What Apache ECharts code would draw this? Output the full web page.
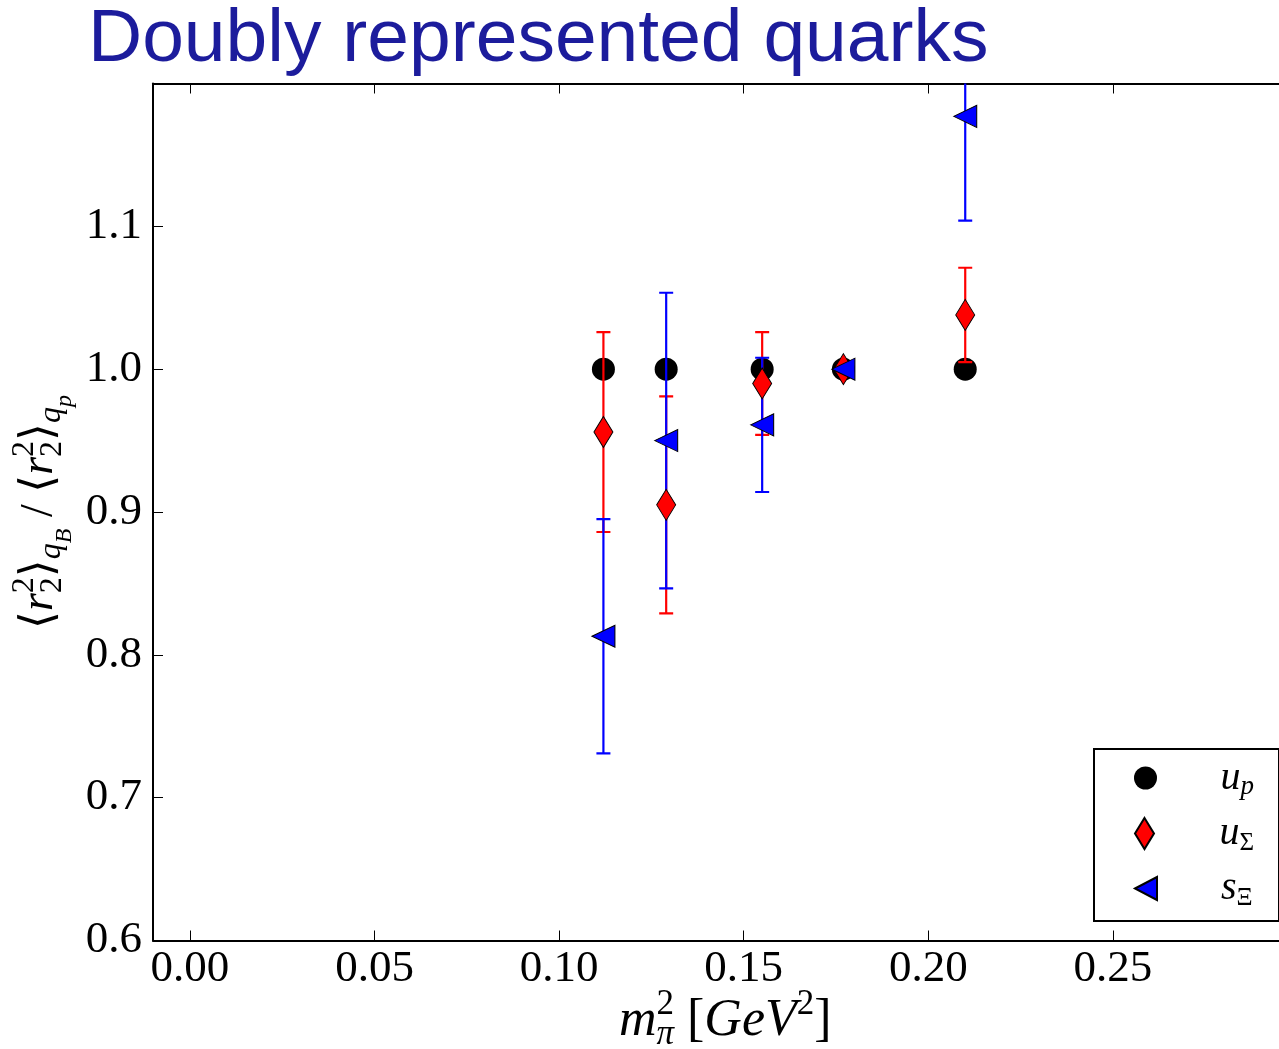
<!DOCTYPE html>
<html>
<head>
<meta charset="utf-8">
<title>Doubly represented quarks</title>
<script src="https://cdn.jsdelivr.net/npm/echarts@6/dist/echarts.min.js"></script>
<style>
  html, body { margin: 0; padding: 0; background: #ffffff; }
  #chart { width: 1279px; height: 1049px; }
</style>
</head>
<body>
<div id="chart"></div>
<script>
// Pion mass squared [GeV^2] for each ensemble
const mpi2 = [0.112, 0.129, 0.155, 0.177, 0.210];

// Ratio <r2^2>_{qB} / <r2^2>_{qp} for each quark flavour, with errors
const upValues = [1.000, 1.000, 1.000, 1.000, 1.000];
const uSigmaValues = [0.956, 0.905, 0.990, 1.000, 1.038];
const uSigmaErrors = [0.070, 0.076, 0.036, 0.000, 0.033];
const sXiValues = [0.813, 0.950, 0.961, 1.000, 1.177];
const sXiErrors = [0.082, 0.1035, 0.047, 0.000, 0.073];

// Tick positions along the mass axis
const xTicks = [0.00, 0.05, 0.10, 0.15, 0.20, 0.25, 0.30];
const xTickLabels = [0.00, 0.05, 0.10, 0.15, 0.20, 0.25];

const SERIF = '"Liberation Serif", "DejaVu Serif", serif';

function points(vals) {
  return mpi2.map((x, i) => [x, vals[i]]);
}
function bars(vals, errs) {
  return mpi2.map((x, i) => [x, vals[i] - errs[i], vals[i] + errs[i]]);
}

// Vertical error bar with horizontal caps
function errorBarRenderer(color) {
  return function (params, api) {
    const x = api.value(0);
    const lo = api.coord([x, api.value(1)]);
    const hi = api.coord([x, api.value(2)]);
    const cap = 7;
    const style = { stroke: color, lineWidth: 2.2 };
    return {
      type: 'group',
      children: [
        { type: 'line', shape: { x1: lo[0], y1: lo[1], x2: hi[0], y2: hi[1] }, style: style },
        { type: 'line', shape: { x1: lo[0] - cap, y1: lo[1], x2: lo[0] + cap, y2: lo[1] }, style: style },
        { type: 'line', shape: { x1: hi[0] - cap, y1: hi[1], x2: hi[0] + cap, y2: hi[1] }, style: style }
      ]
    };
  };
}

// Rich-text token style; all tokens flow left to right so a zero-width
// superscript can sit directly above the following subscript.
function tok(size, opts) {
  return Object.assign({
    fontFamily: SERIF, fontSize: size, lineHeight: size,
    color: '#000', verticalAlign: 'middle', align: 'left'
  }, opts || {});
}

const tickStyle = { color: '#000', width: 1 };

const legendRich = {
  sp: { width: 55 },
  i: { fontFamily: SERIF, fontStyle: 'italic', fontSize: 40, lineHeight: 44, color: '#000', verticalAlign: 'middle' },
  sub: { fontFamily: SERIF, fontStyle: 'italic', fontSize: 27, lineHeight: 27, padding: [17, 0, 0, 0], color: '#000', verticalAlign: 'middle' },
  subu: { fontFamily: SERIF, fontSize: 25, lineHeight: 25, padding: [20, 0, 0, 0], color: '#000', verticalAlign: 'middle' }
};
const legendLabels = {
  'u_p': '{sp|}{i|u}{sub|p}',
  'u_Σ': '{sp|}{i|u}{subu|Σ}',
  's_Ξ': '{sp|}{i|s}{subu|Ξ}'
};
// Legend icons drawn with the same shapes as the plotted markers
const legendIcons = {
  'u_p': 'circle',
  'u_Σ': 'path://M9.5,0L19,15.5L9.5,31L0,15.5Z',
  's_Ξ': 'path://M0,11.5L22,0L22,23Z'
};

function makeLegend(name, centerY, h) {
  return {
    data: [{ name: name, icon: legendIcons[name] }],
    left: 1134,
    top: centerY - 22,
    orient: 'vertical',
    padding: 0,
    itemWidth: 30,
    itemHeight: h,
    itemGap: 0,
    z: 10,
    selectedMode: false,
    symbolKeepAspect: true,
    formatter: n => legendLabels[n],
    textStyle: { rich: legendRich }
  };
}

const option = {
  animation: false,
  backgroundColor: '#ffffff',
  title: {
    text: 'Doubly represented quarks',
    left: 88,
    top: 0,
    padding: 0,
    textStyle: {
      fontFamily: '"Liberation Sans", Arial, sans-serif',
      fontWeight: 'normal',
      fontSize: 75,
      lineHeight: 80,
      color: '#1c1c9c'
    }
  },
  grid: { left: 153, top: 83.5, right: -18.5, bottom: 108.5, containLabel: false, outerBoundsMode: 'none' },
  legend: [
    makeLegend('u_p', 778, 23),
    makeLegend('u_Σ', 833, 31),
    makeLegend('s_Ξ', 888, 23)
  ],
  graphic: [{
    type: 'rect',
    left: 1093,
    top: 748,
    z: 3,
    shape: { width: 185, height: 172 },
    style: { fill: '#ffffff', stroke: '#000000', lineWidth: 2 }
  }],
  xAxis: [{
    type: 'value',
    min: -0.01,
    max: 0.30,
    position: 'bottom',
    splitLine: { show: false },
    axisLine: { show: true, onZero: false, lineStyle: { color: '#000', width: 2 } },
    axisTick: { show: true, inside: true, length: 10, customValues: xTicks, lineStyle: tickStyle },
    axisLabel: {
      customValues: xTickLabels,
      formatter: v => v.toFixed(2),
      fontFamily: SERIF, fontSize: 45, color: '#000', margin: 6
    },
    name: '{i|m}{sup|2}{sub|π}{n| [}{i|GeV}{sup2|2}{n|]}',
    nameLocation: 'middle',
    nameGap: 55,
    nameMoveOverlap: false,
    nameTextStyle: {
      rich: {
        i: tok(52, { fontStyle: 'italic' }),
        n: tok(52),
        sup: tok(35, { width: 0, padding: [0, 0, 34, 0] }),
        sup2: tok(35, { padding: [0, 0, 34, 0] }),
        sub: tok(35, { fontStyle: 'italic', padding: [26, 0, 0, 0] })
      }
    }
  }, {
    type: 'value',
    min: -0.01,
    max: 0.30,
    position: 'top',
    splitLine: { show: false },
    axisLine: { show: true, onZero: false, lineStyle: { color: '#000', width: 2 } },
    axisTick: { show: true, inside: true, length: 10, customValues: xTicks, lineStyle: tickStyle },
    axisLabel: { show: false }
  }],
  yAxis: [{
    type: 'value',
    min: 0.6,
    max: 1.2,
    interval: 0.1,
    splitLine: { show: false },
    axisLine: { show: true, onZero: false, lineStyle: { color: '#000', width: 2 } },
    axisTick: { show: true, inside: true, length: 10, lineStyle: tickStyle },
    axisLabel: {
      showMaxLabel: false,
      formatter: v => v.toFixed(1),
      fontFamily: SERIF, fontSize: 45, color: '#000', margin: 11
    },
    name: '{n|⟨}{i|r}{sup|2}{sub|2}{n|⟩}{subq|q}{subsub|B}{n| / ⟨}{i|r}{sup|2}{sub|2}{n|⟩}{subq|q}{subsub|p}',
    nameLocation: 'middle',
    nameRotate: 90,
    nameGap: 90,
    nameMoveOverlap: false,
    nameTextStyle: {
      rich: {
        i: tok(46, { fontStyle: 'italic' }),
        n: tok(46),
        sup: tok(32, { width: 0, padding: [0, 0, 30, 0] }),
        sub: tok(32, { padding: [26, 0, 0, 0] }),
        subq: tok(32, { fontStyle: 'italic', padding: [24, 0, 0, 0] }),
        subsub: tok(24, { fontStyle: 'italic', padding: [50, 0, 0, 0] })
      }
    }
  }],
  series: [
    {
      name: 'u_p',
      type: 'scatter',
      data: points(upValues),
      symbol: 'circle',
      symbolSize: 23,
      itemStyle: { color: '#000000', opacity: 1 },
      z: 2
    },
    {
      name: 'u_Σ err',
      type: 'custom',
      data: bars(uSigmaValues, uSigmaErrors),
      renderItem: errorBarRenderer('#ff0000'),
      clip: true,
      z: 3,
      encode: { x: 0, y: [1, 2] }
    },
    {
      name: 's_Ξ err',
      type: 'custom',
      data: bars(sXiValues, sXiErrors),
      renderItem: errorBarRenderer('#0000ff'),
      clip: true,
      z: 3,
      encode: { x: 0, y: [1, 2] }
    },
    {
      name: 'u_Σ',
      type: 'scatter',
      data: points(uSigmaValues),
      symbol: 'diamond',
      symbolSize: [19, 31],
      itemStyle: { color: '#ff0000', borderColor: '#000000', borderWidth: 1, opacity: 1 },
      z: 4
    },
    {
      name: 's_Ξ',
      type: 'scatter',
      data: points(sXiValues),
      symbol: 'triangle',
      symbolSize: [22, 23],
      symbolRotate: 90,
      itemStyle: { color: '#0000ff', borderColor: '#000000', borderWidth: 1, opacity: 1 },
      z: 5
    }
  ]
};

const chart = echarts.init(document.getElementById('chart'), null, { renderer: 'canvas' });
chart.setOption(option);
</script>
</body>
</html>
